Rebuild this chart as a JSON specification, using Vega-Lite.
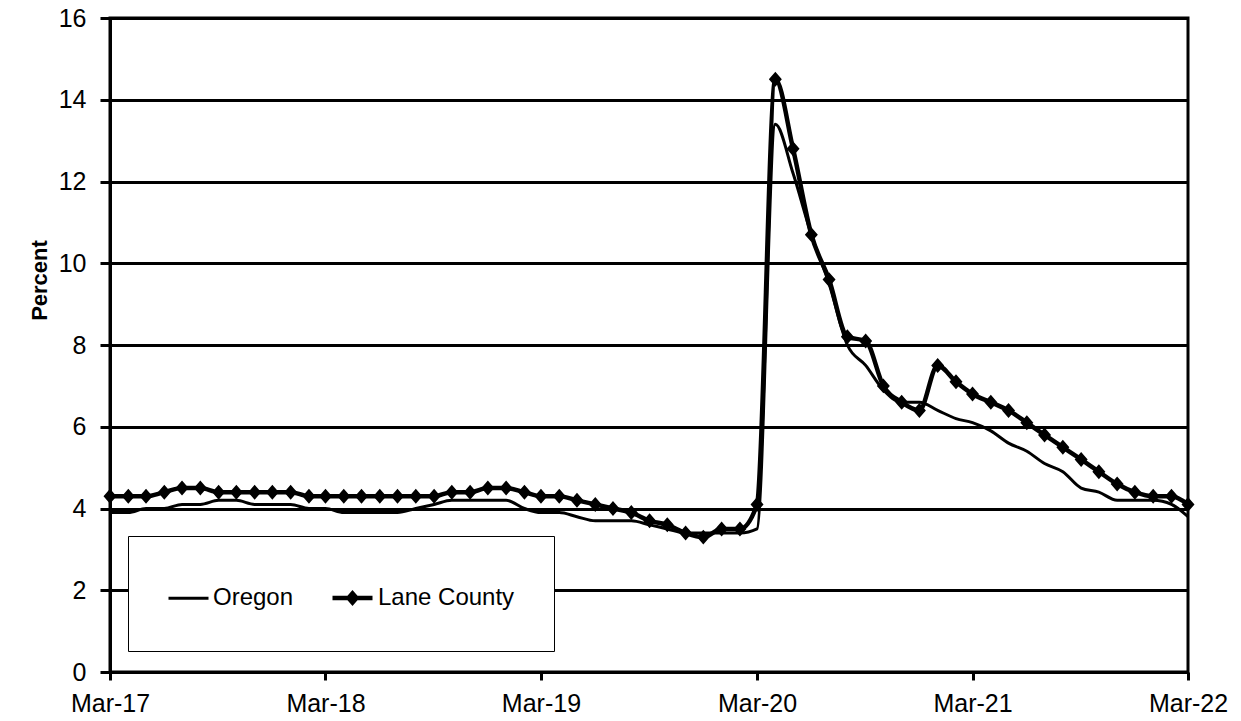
{
  "$schema": "https://vega.github.io/schema/vega-lite/v6.json",
  "autosize": {"type": "none"},
  "padding": {"left": 110, "top": 18, "right": 53, "bottom": 49},
  "width": 1078,
  "height": 654,
  "background": "white",
  "config": {
    "view": {"stroke": "black", "strokeWidth": 3},
    "axis": {
      "domainColor": "black", "domainWidth": 3,
      "tickColor": "black", "tickWidth": 3,
      "labelColor": "black", "labelFont": "Liberation Sans", "labelFontSize": 25,
      "titleColor": "black", "titleFont": "Liberation Sans"
    }
  },
  "data": {"values": [
    {"month": "2017-03-01", "Oregon": 3.9, "Lane County": 4.3},
    {"month": "2017-04-01", "Oregon": 3.9, "Lane County": 4.3},
    {"month": "2017-05-01", "Oregon": 4.0, "Lane County": 4.3},
    {"month": "2017-06-01", "Oregon": 4.0, "Lane County": 4.4},
    {"month": "2017-07-01", "Oregon": 4.1, "Lane County": 4.5},
    {"month": "2017-08-01", "Oregon": 4.1, "Lane County": 4.5},
    {"month": "2017-09-01", "Oregon": 4.2, "Lane County": 4.4},
    {"month": "2017-10-01", "Oregon": 4.2, "Lane County": 4.4},
    {"month": "2017-11-01", "Oregon": 4.1, "Lane County": 4.4},
    {"month": "2017-12-01", "Oregon": 4.1, "Lane County": 4.4},
    {"month": "2018-01-01", "Oregon": 4.1, "Lane County": 4.4},
    {"month": "2018-02-01", "Oregon": 4.0, "Lane County": 4.3},
    {"month": "2018-03-01", "Oregon": 4.0, "Lane County": 4.3},
    {"month": "2018-04-01", "Oregon": 3.9, "Lane County": 4.3},
    {"month": "2018-05-01", "Oregon": 3.9, "Lane County": 4.3},
    {"month": "2018-06-01", "Oregon": 3.9, "Lane County": 4.3},
    {"month": "2018-07-01", "Oregon": 3.9, "Lane County": 4.3},
    {"month": "2018-08-01", "Oregon": 4.0, "Lane County": 4.3},
    {"month": "2018-09-01", "Oregon": 4.1, "Lane County": 4.3},
    {"month": "2018-10-01", "Oregon": 4.2, "Lane County": 4.4},
    {"month": "2018-11-01", "Oregon": 4.2, "Lane County": 4.4},
    {"month": "2018-12-01", "Oregon": 4.2, "Lane County": 4.5},
    {"month": "2019-01-01", "Oregon": 4.2, "Lane County": 4.5},
    {"month": "2019-02-01", "Oregon": 4.0, "Lane County": 4.4},
    {"month": "2019-03-01", "Oregon": 3.9, "Lane County": 4.3},
    {"month": "2019-04-01", "Oregon": 3.9, "Lane County": 4.3},
    {"month": "2019-05-01", "Oregon": 3.8, "Lane County": 4.2},
    {"month": "2019-06-01", "Oregon": 3.7, "Lane County": 4.1},
    {"month": "2019-07-01", "Oregon": 3.7, "Lane County": 4.0},
    {"month": "2019-08-01", "Oregon": 3.7, "Lane County": 3.9},
    {"month": "2019-09-01", "Oregon": 3.6, "Lane County": 3.7},
    {"month": "2019-10-01", "Oregon": 3.5, "Lane County": 3.6},
    {"month": "2019-11-01", "Oregon": 3.4, "Lane County": 3.4},
    {"month": "2019-12-01", "Oregon": 3.4, "Lane County": 3.3},
    {"month": "2020-01-01", "Oregon": 3.4, "Lane County": 3.5},
    {"month": "2020-02-01", "Oregon": 3.4, "Lane County": 3.5},
    {"month": "2020-03-01", "Oregon": 3.5, "Lane County": 4.1},
    {"month": "2020-04-01", "Oregon": 13.4, "Lane County": 14.5},
    {"month": "2020-05-01", "Oregon": 12.2, "Lane County": 12.8},
    {"month": "2020-06-01", "Oregon": 10.7, "Lane County": 10.7},
    {"month": "2020-07-01", "Oregon": 9.5, "Lane County": 9.6},
    {"month": "2020-08-01", "Oregon": 8.0, "Lane County": 8.2},
    {"month": "2020-09-01", "Oregon": 7.5, "Lane County": 8.1},
    {"month": "2020-10-01", "Oregon": 6.9, "Lane County": 7.0},
    {"month": "2020-11-01", "Oregon": 6.6, "Lane County": 6.6},
    {"month": "2020-12-01", "Oregon": 6.6, "Lane County": 6.4},
    {"month": "2021-01-01", "Oregon": 6.4, "Lane County": 7.5},
    {"month": "2021-02-01", "Oregon": 6.2, "Lane County": 7.1},
    {"month": "2021-03-01", "Oregon": 6.1, "Lane County": 6.8},
    {"month": "2021-04-01", "Oregon": 5.9, "Lane County": 6.6},
    {"month": "2021-05-01", "Oregon": 5.6, "Lane County": 6.4},
    {"month": "2021-06-01", "Oregon": 5.4, "Lane County": 6.1},
    {"month": "2021-07-01", "Oregon": 5.1, "Lane County": 5.8},
    {"month": "2021-08-01", "Oregon": 4.9, "Lane County": 5.5},
    {"month": "2021-09-01", "Oregon": 4.5, "Lane County": 5.2},
    {"month": "2021-10-01", "Oregon": 4.4, "Lane County": 4.9},
    {"month": "2021-11-01", "Oregon": 4.2, "Lane County": 4.6},
    {"month": "2021-12-01", "Oregon": 4.2, "Lane County": 4.4},
    {"month": "2022-01-01", "Oregon": 4.2, "Lane County": 4.3},
    {"month": "2022-02-01", "Oregon": 4.1, "Lane County": 4.3},
    {"month": "2022-03-01", "Oregon": 3.8, "Lane County": 4.1}
  ]},
  "transform": [{"fold": ["Oregon", "Lane County"], "as": ["series", "value"]}],
  "encoding": {
    "x": {
      "field": "month", "type": "temporal",
      "scale": {"type": "utc", "domain": [{"year": 2017, "month": 3, "date": 1, "utc": true}, {"year": 2022, "month": 3, "date": 1, "utc": true}], "nice": false},
      "axis": {
        "title": null, "grid": false,
        "values": [
          {"year": 2017, "month": 3, "date": 1, "utc": true},
          {"year": 2018, "month": 3, "date": 1, "utc": true},
          {"year": 2019, "month": 3, "date": 1, "utc": true},
          {"year": 2020, "month": 3, "date": 1, "utc": true},
          {"year": 2021, "month": 3, "date": 1, "utc": true},
          {"year": 2022, "month": 3, "date": 1, "utc": true}
        ],
        "labelExpr": "utcFormat(datum.value, '%b-%y')",
        "tickSize": 8, "labelPadding": 11,
        "labelFlush": false, "labelOverlap": false, "labelBound": false
      }
    },
    "y": {
      "field": "value", "type": "quantitative",
      "scale": {"domain": [0, 16], "nice": false},
      "axis": {
        "title": "Percent", "titleFontSize": 22, "titleFontWeight": "bold",
        "titleX": -64, "titleY": 262, "titleAngle": -90, "titleAlign": "center", "titleBaseline": "alphabetic",
        "values": [0, 2, 4, 6, 8, 10, 12, 14, 16],
        "tickSize": 10, "labelPadding": 14,
        "grid": true, "gridColor": "black", "gridWidth": 3, "gridOpacity": 1
      }
    }
  },
  "layer": [
    {
      "mark": {"type": "line", "interpolate": "monotone"},
      "encoding": {
        "color": {
          "field": "series", "type": "nominal",
          "scale": {"domain": ["Oregon", "Lane County"], "range": ["black", "black"]},
          "legend": {
            "title": null, "orient": "none", "legendX": 18, "legendY": 518,
            "direction": "horizontal", "padding": 39, "columnPadding": 29,
            "symbolSize": 1600, "labelOffset": 3,
            "symbolFillColor": "black", "symbolOpacity": 1,
            "labelFont": "Liberation Sans", "labelFontSize": 24, "labelColor": "black", "labelLimit": 400,
            "strokeColor": "black", "fillColor": "white"
          }
        },
        "strokeWidth": {
          "field": "series", "type": "nominal",
          "scale": {"domain": ["Oregon", "Lane County"], "range": [3, 4.5]}
        }
      }
    },
    {
      "transform": [{"filter": "datum.series === 'Lane County'"}],
      "mark": {"type": "point", "filled": true, "size": 4225, "color": "black", "opacity": 1},
      "encoding": {
        "shape": {
          "field": "series", "type": "nominal",
          "scale": {"domain": ["Oregon", "Lane County"], "range": ["M-1,0H1", "M-1,0H1M-0.2,0L0,-0.23L0.2,0L0,0.23Z"]}
        }
      }
    }
  ]
}
